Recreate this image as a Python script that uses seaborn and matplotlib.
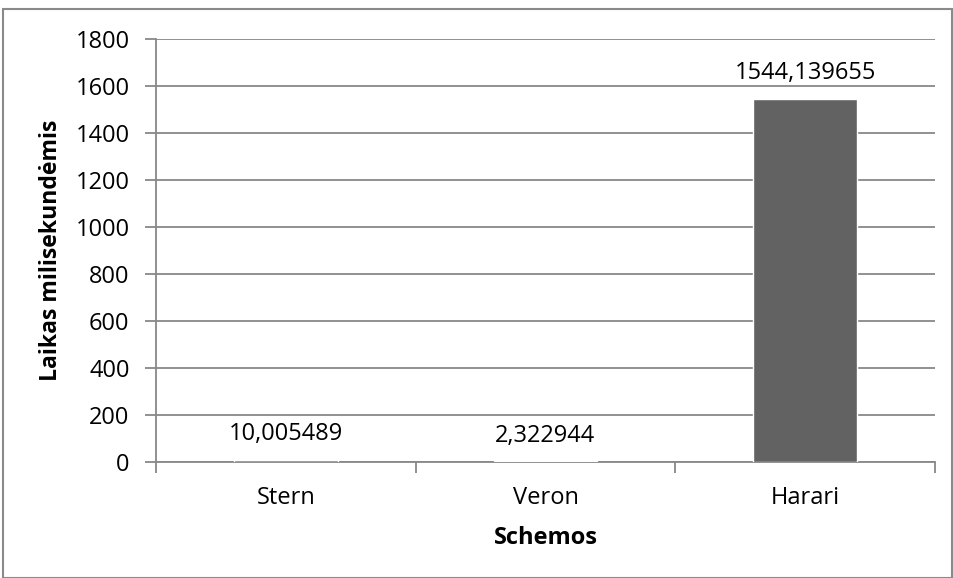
import matplotlib
matplotlib.use("Agg")
import matplotlib.pyplot as plt
from matplotlib.patches import Rectangle
import seaborn as sns
import pandas as pd

schemes = ["Stern", "Veron", "Harari"]
times_ms = [10.005489, 2.322944, 1544.139655]
y_ticks = [0, 200, 400, 600, 800, 1000, 1200, 1400, 1600, 1800]

sns.set_theme(style="white")
plt.rcParams["font.family"] = ["Open Sans", "DejaVu Sans"]

df = pd.DataFrame({"Schemos": schemes, "Laikas": times_ms})

fig = plt.figure(figsize=(9.54, 5.78), dpi=100)
ax = fig.add_axes([0.1635, 0.2007, 0.980 - 0.1635, 0.9325 - 0.2007])

fs = 17
grid_col = "#888888"
sns.barplot(data=df, x="Schemos", y="Laikas", color="#626262", width=0.4,
            saturation=1, ax=ax, zorder=3)

ax.set_ylim(0, 1800)
ax.set_xlim(-0.5, 2.5)
ax.set_yticks(y_ticks)
ax.set_yticklabels([str(t) for t in y_ticks], fontsize=fs, color="black")
ax.yaxis.grid(True, color=grid_col, linewidth=1.3, zorder=0)
ax.set_axisbelow(True)

for s in ["top", "right"]:
    ax.spines[s].set_visible(False)
for s in ["left", "bottom"]:
    ax.spines[s].set_color(grid_col)
    ax.spines[s].set_linewidth(1.3)

ax.tick_params(axis="y", which="major", direction="out", length=8, width=1.3,
               color=grid_col, left=True, pad=11)
ax.tick_params(axis="x", which="major", length=0, labelsize=fs, pad=17,
               labelcolor="black")
ax.set_xticks([-0.5, 0.5, 1.5, 2.5], minor=True)
ax.tick_params(axis="x", which="minor", direction="out", length=8, width=1.3,
               color=grid_col, bottom=True)

labels = [f"{v:.6f}".replace(".", ",") for v in times_ms]
ax.bar_label(ax.containers[0], labels=labels, padding=10, fontsize=fs,
             color="black")

ax.set_xlabel("Schemos", fontsize=fs, fontweight="bold", color="black",
              labelpad=12)
ax.set_ylabel("Laikas milisekundėmis", fontsize=16.6, fontweight="bold",
              color="black", labelpad=9)

fig.patches.append(Rectangle((3 / 954, 0), 1 - 5 / 954, 1 - 9 / 578,
                             transform=fig.transFigure, fill=False,
                             edgecolor="#8a8a8a", linewidth=1.5))

fig.savefig("out.png", dpi=100)
